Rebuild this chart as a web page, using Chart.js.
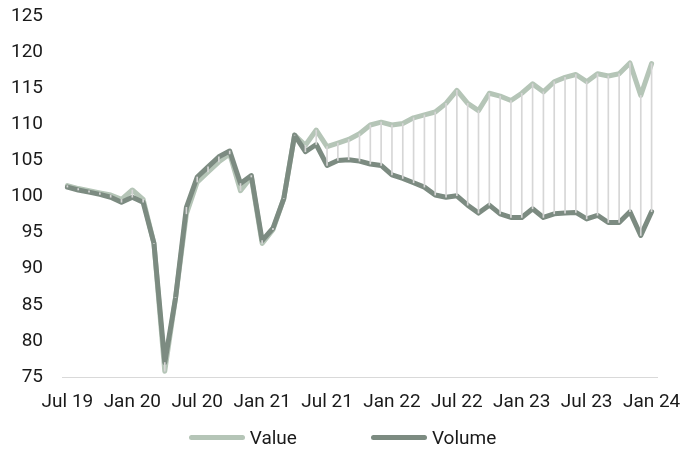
<!DOCTYPE html>
<html>
<head>
<meta charset="utf-8">
<script src="https://cdn.jsdelivr.net/npm/chart.js@4"></script>
<style>
  html, body { margin: 0; padding: 0; background: #fff; }
  .wrap { position: relative; width: 685px; height: 450px; }
  #legend {
    position: absolute; left: 0; right: 0; top: 426px;
    display: flex; justify-content: center; gap: 74px;
    font-family: Roboto, sans-serif; font-size: 19px; color: #1a1a1a;
  }
  .legend__item { display: flex; align-items: center; }
  .legend__mark { width: 56px; height: 5px; border-radius: 3px; margin-right: 5px; }
</style>
</head>
<body>
<div class="wrap">
  <canvas id="chart" width="685" height="450"></canvas>
  <div id="legend"></div>
</div>
<script>
/* ───────── Dados ─────── */
const months = [
  'Jul 19','Aug 19','Sep 19','Oct 19','Nov 19','Dec 19',
  'Jan 20','Feb 20','Mar 20','Apr 20','May 20','Jun 20',
  'Jul 20','Aug 20','Sep 20','Oct 20','Nov 20','Dec 20',
  'Jan 21','Feb 21','Mar 21','Apr 21','May 21','Jun 21',
  'Jul 21','Aug 21','Sep 21','Oct 21','Nov 21','Dec 21',
  'Jan 22','Feb 22','Mar 22','Apr 22','May 22','Jun 22',
  'Jul 22','Aug 22','Sep 22','Oct 22','Nov 22','Dec 22',
  'Jan 23','Feb 23','Mar 23','Apr 23','May 23','Jun 23',
  'Jul 23','Aug 23','Sep 23','Oct 23','Nov 23','Dec 23',
  'Jan 24'
];

const valueIdx = [
  101.5, 101.1, 100.8, 100.5, 100.2, 99.6,
  100.9, 99.6, 93.5, 75.8, 86.0, 97.6,
  102.0, 103.4, 104.8, 105.9, 100.8, 102.7,
  93.5, 95.4, 99.7, 108.5, 107.1, 109.2,
  106.9, 107.4, 107.9, 108.7, 109.9, 110.3,
  109.9, 110.1, 110.9, 111.3, 111.7, 112.9,
  114.7, 112.9, 111.9, 114.3, 113.9, 113.3,
  114.3, 115.6, 114.5, 115.9, 116.5, 116.9,
  115.9, 117.0, 116.7, 117.0, 118.5, 114.0,
  118.4
];

const volumeIdx = [
  101.3, 100.9, 100.6, 100.3, 99.9, 99.2,
  99.9, 99.2, 93.5, 77.0, 86.0, 98.5,
  102.7, 104.1, 105.5, 106.3, 101.8, 102.9,
  93.9, 95.6, 99.7, 108.5, 106.2, 107.2,
  104.3, 105.0, 105.1, 104.9, 104.5, 104.3,
  103.0, 102.5, 101.9, 101.3, 100.2, 99.9,
  100.1, 98.8, 97.7, 98.8, 97.6, 97.1,
  97.1, 98.3, 97.1, 97.6, 97.7, 97.8,
  96.9, 97.4, 96.4, 96.4, 97.9, 94.6,
  97.9
];

const yTicks = [75, 80, 85, 90, 95, 100, 105, 110, 115, 120, 125];

/* ───────── Cores ─────── */
const corValue  = '#b5c5b7';
const corVolume = '#7c8b81';
const corHiLo   = '#d6d6d6';
const corTexto  = '#1a1a1a';

const ctx = document.getElementById('chart').getContext('2d');

const chart = new Chart(ctx, {
  data: {
    labels: months,
    datasets: [
      {
        type: 'bar',
        label: 'hi-lo',
        data: valueIdx.map((v, i) => [volumeIdx[i], v]),
        backgroundColor: corHiLo,
        barThickness: 1,
        order: 0
      },
      {
        type: 'line',
        label: 'Volume',
        data: volumeIdx,
        borderColor: corVolume,
        backgroundColor: corVolume,
        borderWidth: 5,
        borderJoinStyle: 'round',
        borderCapStyle: 'round',
        pointRadius: 0,
        tension: 0,
        order: 1
      },
      {
        type: 'line',
        label: 'Value',
        data: valueIdx,
        borderColor: corValue,
        backgroundColor: corValue,
        borderWidth: 5,
        borderJoinStyle: 'round',
        borderCapStyle: 'round',
        pointRadius: 0,
        tension: 0,
        order: 2
      }
    ]
  },
  options: {
    responsive: false,
    animation: false,
    layout: { padding: { left: 10, right: 28, top: 16, bottom: 26 } },
    plugins: {
      legend: { display: false },
      tooltip: { enabled: false }
    },
    scales: {
      x: {
        type: 'category',
        offset: true,
        afterFit: axis => {
          axis.height = 47;
          axis.paddingLeft = 0;
          axis.paddingRight = 0;
        },
        grid: { display: false, drawTicks: false },
        border: { display: true, color: '#d9d9d9', width: 1 },
        ticks: {
          autoSkip: false,
          maxRotation: 0,
          padding: 14,
          color: corTexto,
          font: { family: 'Roboto', size: 19 },
          callback: (v, i) => (i % 6 === 0 ? months[i] : '')
        }
      },
      y: {
        min: 75,
        max: 125,
        afterBuildTicks: axis => { axis.ticks = yTicks.map(v => ({ value: v })); },
        afterFit: axis => {
          axis.width = 52;          // rótulo + espaço até a área do gráfico
          axis.paddingTop = 0;
          axis.paddingBottom = 0;
        },
        grid: { display: false, drawTicks: false },
        border: { display: false },
        ticks: {
          padding: 19,
          color: corTexto,
          font: { family: 'Roboto', size: 19 }
        }
      }
    }
  }
});

/* ───────── Legenda HTML ─────── */
const legend = document.getElementById('legend');
['Value', 'Volume'].forEach(nome => {
  const ds = chart.data.datasets.find(d => d.label === nome);
  const item = document.createElement('div');
  item.className = 'legend__item';
  item.innerHTML = `<span class="legend__mark" style="background:${ds.borderColor}"></span><span>${nome}</span>`;
  legend.appendChild(item);
});
</script>
</body>
</html>
